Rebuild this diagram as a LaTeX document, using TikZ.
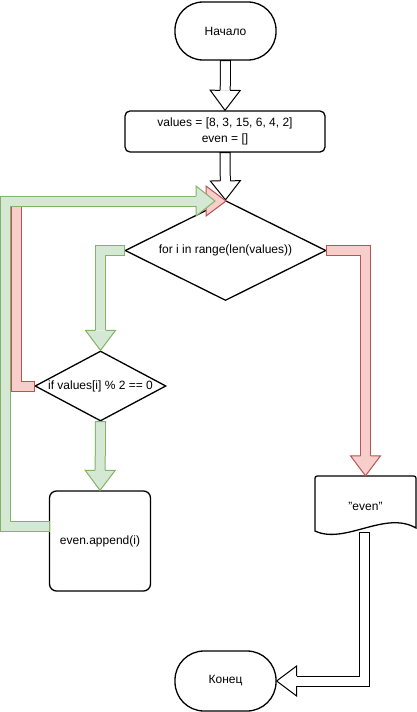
\documentclass[tikz,border=0pt]{standalone}
\usepackage{fontspec}
\setmainfont{Liberation Sans}
\usetikzlibrary{shapes.geometric,calc}

\definecolor{greenfill}{HTML}{D5E8D4}
\definecolor{greenline}{HTML}{82B366}
\definecolor{redfill}{HTML}{F8CECC}
\definecolor{redline}{HTML}{B85450}

\tikzset{
  every node/.style={font=\fontsize{12}{15.5}\selectfont, inner sep=0pt},
  shapeline/.style={draw=black, line width=1.3pt, fill=white},
  terminal/.style={shapeline, rounded corners=28pt, minimum width=101pt, minimum height=58pt},
  process/.style={shapeline, rounded corners=5pt},
  decision/.style={shapeline, diamond},
}

% Wide outlined arrow: #1 outline colour, #2 fill colour, #3 start,
% #4 point that fixes the direction at the start, #5 corner segments,
% #6 point before the head, #7 tip, #8 head length
\newcommand{\flexarrow}[8]{%
  \coordinate (fa-b) at ($(#7)!#8!(#6)$);
  \coordinate (fa-w1) at ($(fa-b)!15pt!90:(#7)$);
  \coordinate (fa-w2) at ($(fa-b)!15pt!-90:(#7)$);
  \coordinate (fa-s1) at ($(fa-b)!5pt!90:(#7)$);
  \coordinate (fa-s2) at ($(fa-b)!5pt!-90:(#7)$);
  \draw[#1, line width=11pt] (#3) #5 -- (fa-b);
  \draw[#2, line width=9pt] (#3) #5 -- (fa-b);
  \draw[#1, line width=1pt] ($(#3)!5.5pt!90:(#4)$) -- ($(#3)!5.5pt!-90:(#4)$);
  \fill[#2] (fa-w1) -- (#7) -- (fa-w2) -- cycle;
  \draw[#1, line width=1pt] (fa-s1) -- (fa-w1) -- (#7) -- (fa-w2) -- (fa-s2);
}

\begin{document}
\begin{tikzpicture}[x=1pt, y=-1pt]
\useasboundingbox (0,0) rectangle (417,712);

% blocks
\node[terminal] (start) at (225.5,31) {Начало};
\node[process, minimum width=200pt, minimum height=41pt, align=center] (init) at (225,131.5)
  {values = [8, 3, 15, 6, 4, 2]\\even = []};
\node[decision, aspect=2, minimum width=201pt, minimum height=100pt] (loop) at (225.5,250.5)
  {for i in range(len(values))};
\node[decision, aspect=1.87, minimum width=131pt, minimum height=70pt] (cond) at (100.5,386)
  {if values[i] \% 2 == 0};
\node[process, rounded corners=7pt, minimum width=101pt, minimum height=100pt] (append) at (100,541)
  {even.append(i)};

% output document with a wavy lower edge
\draw[shapeline] (416,528) .. controls (385,510) and (345,545) .. (315,531)
  -- (315,481) .. controls (315,476) .. (320,476) -- (411,476)
  .. controls (416,476) .. (416,481) -- cycle;
\node[minimum width=101pt, minimum height=60pt] (out) at (365.5,506) {"even"};

\node[terminal, minimum height=60pt, rounded corners=29pt] (end) at (225.5,681) {Конец};

% connector corners
\coordinate (rc1) at (16,386);
\coordinate (rc2) at (16,201);
\coordinate (rtip) at (226,201);
\coordinate (gs) at (49.5,526);
\coordinate (gc1) at (5.5,526);
\coordinate (gc2) at (5.5,201);
\coordinate (gtip) at (215,201);
\coordinate (gc3) at (cond.north |- loop.west);
\coordinate (rc3) at (out.north |- loop.east);
\coordinate (bs) at (364,532.5);
\coordinate (bc) at (bs |- end.east);

% main flow
\flexarrow{black}{white}{start.south}{init.north}{}{start.south}{init.north}{20pt}
\flexarrow{black}{white}{init.south}{loop.north}{}{init.south}{loop.north}{19pt}
\flexarrow{black}{white}{bs}{bc}{-- (bc)}{bc}{end.east}{20pt}

% "no" branches
\flexarrow{redline}{redfill}{loop.east}{rc3}{-- (rc3)}{rc3}{out.north}{20pt}
\flexarrow{redline}{redfill}{cond.west}{rc1}{-- (rc1) -- (rc2)}{rc2}{rtip}{20pt}

% "yes" branches
\flexarrow{greenline}{greenfill}{gs}{gc1}{-- (gc1) -- (gc2)}{gc2}{gtip}{19pt}
\flexarrow{greenline}{greenfill}{loop.west}{gc3}{-- (gc3)}{gc3}{cond.north}{20pt}
\flexarrow{greenline}{greenfill}{cond.south}{append.north}{}{cond.south}{append.north}{20pt}
\end{tikzpicture}
\end{document}
